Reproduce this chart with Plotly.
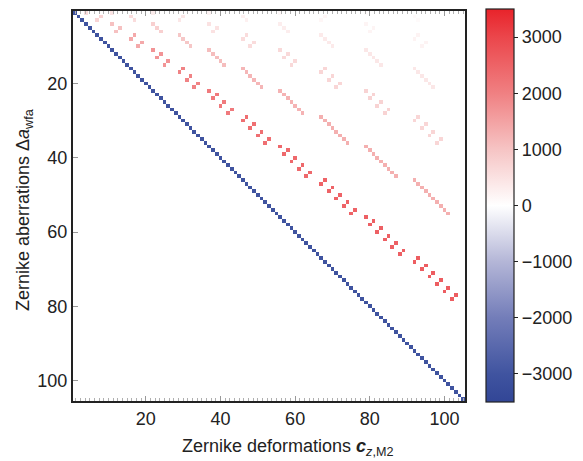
import numpy as np
import plotly.graph_objects as go

# ---- data ----
zernike_index = list(range(1, 106))          # Noll indices 1..105 (radial orders 0..13)
max_radial_order = 13
diagonal_value = -3050                        # every diagonal cell
# coupling aberration order n -> deformation order n+2k, one value per n
band_k1 = [600, 750, 1050, 1400, 1700, 1950, 2100, 2300, 2400, 2500, 2550, 2600]
band_k2 = [450, 600, 800, 950, 1100, 1200, 1250, 1300, 1300, 1300]
band_k3 = [300, 400, 500, 600, 650, 700, 750, 700]
band_k4 = [200, 250, 300, 350, 400, 400]
band_k5 = [120, 150, 180, 200]
band_k6 = [60, 80]
colorbar_ticks = [-3000, -2000, -1000, 0, 1000, 2000, 3000]
axis_ticks = [20, 40, 60, 80, 100]


def noll(n, m):
    j = n * (n + 1) // 2 + abs(m)
    if m == 0:
        return j + 1
    if (m > 0 and n % 4 in (0, 1)) or (m < 0 and n % 4 in (2, 3)):
        return j
    return j + 1


size = len(zernike_index)
z = np.zeros((size, size))
for n in range(max_radial_order + 1):
    for m in range(-n, n + 1, 2):
        i = noll(n, m) - 1
        z[i, i] = diagonal_value
for k, vals in enumerate([band_k1, band_k2, band_k3, band_k4, band_k5, band_k6], start=1):
    for n, v in enumerate(vals):
        n2 = n + 2 * k
        if n2 > max_radial_order:
            continue
        for m in range(-n, n + 1, 2):
            z[noll(n, m) - 1, noll(n2, m) - 1] = v

zmin, zmax = -3500, 3500
def pos(v):
    return (v - zmin) / (zmax - zmin)

colorscale = [
    [0.0, "rgb(50,70,150)"],
    [pos(-3000), "rgb(64,84,160)"],
    [pos(-2000), "rgb(115,125,185)"],
    [pos(-1000), "rgb(180,182,215)"],
    [0.5, "rgb(255,255,255)"],
    [pos(1000), "rgb(246,196,196)"],
    [pos(2000), "rgb(240,128,130)"],
    [pos(3000), "rgb(235,70,75)"],
    [1.0, "rgb(232,35,42)"],
]

font_family = "Liberation Sans, Arial, sans-serif"
text_color = "#222222"

fig = go.Figure(
    go.Heatmap(
        x=zernike_index,
        y=zernike_index,
        z=z,
        zmin=zmin,
        zmax=zmax,
        colorscale=colorscale,
        colorbar=dict(
            x=1.053, xanchor="left", xpad=0,
            y=0.5, yanchor="middle", len=1.005, lenmode="fraction", ypad=0,
            thickness=28,
            outlinewidth=1.2, outlinecolor="#222222",
            tickvals=colorbar_ticks,
            ticks="outside", ticklen=4, tickcolor="#222222",
            tickfont=dict(size=18, color=text_color, family=font_family),
        ),
        hoverongaps=False,
    )
)

fig.update_layout(
    width=583,
    height=461,
    margin=dict(l=73, r=118, t=10, b=60),
    paper_bgcolor="white",
    plot_bgcolor="white",
    font=dict(family=font_family, color=text_color, size=18),
    annotations=[
        dict(
            text="Zernike deformations <b><i>c</i></b><sub><i>z</i>,M2</sub>",
            xref="paper", yref="paper", x=0.546, y=-0.118,
            xanchor="center", yanchor="middle", showarrow=False,
            font=dict(size=18, color=text_color, family=font_family),
        ),
        dict(
            text="Zernike aberrations Δ<i>a</i><sub>wfa</sub>",
            xref="paper", yref="paper", x=-0.122, y=0.49,
            xanchor="center", yanchor="middle", showarrow=False, textangle=-90,
            font=dict(size=18, color=text_color, family=font_family),
        ),
    ],
)

fig.update_xaxes(
    range=[0.5, 105.5],
    tickvals=axis_ticks,
    ticks="inside", ticklen=5, tickcolor="#999999",
    tickfont=dict(size=18),
    showgrid=False, zeroline=False,
    showline=True, linecolor="#222222", linewidth=2, mirror="allticks",
    minor=dict(ticks="inside", ticklen=3, tickcolor="#b0b0b0", tickwidth=1,
               dtick=1.25, tick0=0, showgrid=False),
)
fig.update_yaxes(
    range=[105.5, 0.5],
    tickvals=axis_ticks,
    ticks="inside", ticklen=5, tickcolor="#999999",
    tickfont=dict(size=18),
    showgrid=False, zeroline=False,
    showline=True, linecolor="#222222", linewidth=2, mirror=True,
)

fig.write_html("out.html")
